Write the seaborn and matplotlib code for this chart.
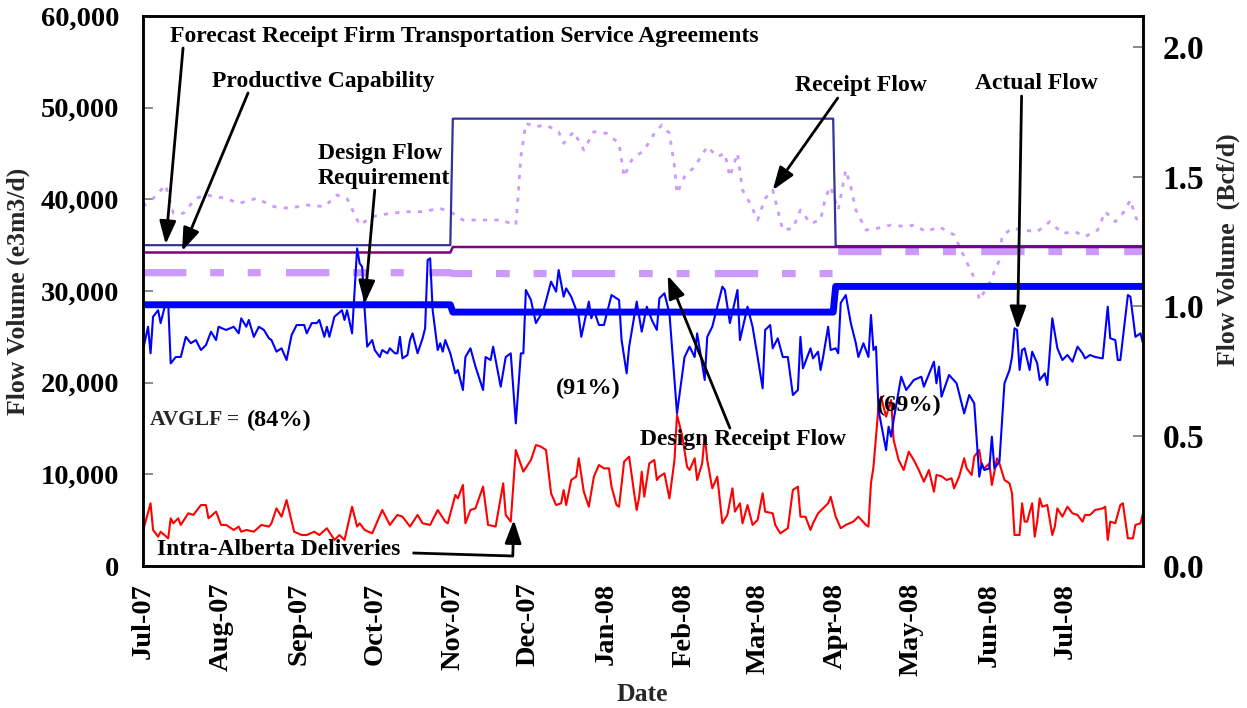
import pandas as pd
import matplotlib
matplotlib.use("Agg")
import matplotlib.pyplot as plt
from matplotlib.ticker import FuncFormatter, FixedLocator
import seaborn as sns

# ---------------------------------------------------------------- data
START = pd.Timestamp("2007-07-01")
END = pd.Timestamp("2008-08-01")

# Daily actual flow (e3m3/d), sampled by day offset from START
actual_days = [0, 2, 3, 4, 6, 7, 9, 10, 11, 13, 15, 17, 19, 21, 23, 25, 27, 29, 30, 33,
               36, 38, 39, 41, 42, 44, 46, 48, 50, 51, 53, 55, 57, 59, 61, 64, 65, 67, 69, 70,
               72, 73, 74, 76, 79, 80, 81, 83, 85, 86, 87, 88, 89, 91, 92, 94, 95, 97, 98, 100,
               101, 102, 103, 105, 106, 107, 109, 111, 112, 113, 114, 115, 117, 118, 119, 120, 122, 124, 125, 127,
               128, 130, 132, 135, 136, 138, 139, 142, 144, 146, 148, 150, 151, 152, 154, 156, 159, 162, 164, 165,
               167, 168, 170, 173, 174, 177, 178, 179, 181, 183, 186, 189, 190, 192, 193, 196, 198, 200, 202, 204,
               205, 207, 209, 212, 215, 217, 219, 220, 223, 224, 226, 230, 231, 233, 236, 237, 240, 242, 244, 246,
               247, 249, 250, 252, 254, 256, 258, 260, 261, 262, 265, 266, 268, 269, 270, 272, 273, 275, 276, 277,
               279, 281, 283, 284, 286, 288, 289, 290, 291, 292, 295, 296, 297, 298, 301, 303, 304, 306, 309, 310,
               314, 315, 316, 317, 320, 323, 326, 328, 330, 332, 333, 334, 336, 337, 338, 340, 342, 344, 345, 346,
               347, 348, 349, 350, 352, 353, 355, 356, 358, 359, 361, 363, 365, 367, 369, 371, 373, 374, 376, 378,
               381, 383, 384, 386, 387, 388, 391, 392, 394, 396, 397]
actual_flow = [23560, 26100, 23200, 27200, 27900, 26500, 28700, 28700, 22100, 22800, 22800, 25000, 24300, 24650, 23560, 24100, 25560, 24650, 26100, 25750,
               26100, 25380, 27020, 26100, 26840, 25000, 26100, 25750, 24840, 24650, 23380, 23750, 22470, 25200, 26290, 26290, 25380, 26500, 26500, 26840,
               25000, 26100, 25000, 27200, 27900, 26840, 27900, 25380, 34650, 33020, 32650, 27900, 23930, 24650, 23560, 22800, 23560, 23200, 23750, 23200,
               23200, 25000, 22650, 23020, 24650, 25380, 23200, 24840, 25930, 33380, 33560, 27900, 23560, 24300, 23380, 24650, 23200, 21020, 21380, 19200,
               22800, 23750, 21750, 19200, 22800, 22470, 23930, 19560, 22800, 23200, 15560, 23200, 23200, 30110, 29020, 26500, 27900, 31020, 29930, 32290,
               29380, 30290, 29380, 27200, 25000, 28840, 27020, 27900, 26290, 26290, 29560, 29020, 24650, 21020, 23930, 28840, 25560, 28290, 26840, 25750,
               29200, 29750, 27560, 16650, 22800, 23930, 22800, 25380, 20290, 25000, 26100, 30470, 30110, 26500, 30110, 24650, 28290, 26100, 22800, 19380,
               25750, 26290, 23750, 24840, 22800, 22800, 18650, 19200, 25000, 21560, 23750, 22650, 23380, 21380, 22800, 26100, 23560, 23750, 23200, 28700,
               29560, 26500, 24300, 22800, 24300, 22800, 27380, 23560, 23930, 17020, 12650, 15200, 14110, 15930, 20650, 19200, 19560, 20290, 20650, 19560,
               22290, 19930, 21750, 18470, 20840, 19930, 16650, 18650, 17750, 9750, 11200, 10470, 10650, 14110, 10650, 11380, 19930, 21380, 22800, 25930,
               25750, 21380, 23560, 23750, 21380, 23380, 22110, 20290, 21020, 19750, 27020, 23750, 22470, 23020, 22290, 23930, 23200, 22650, 23020, 22800,
               22650, 28290, 24840, 24650, 22470, 22470, 29560, 29380, 25000, 25380, 24300]

# Daily intra-Alberta deliveries (e3m3/d)
intra_days = [0, 1, 3, 4, 6, 7, 10, 11, 12, 14, 15, 18, 20, 23, 25, 26, 29, 31, 33, 36,
              38, 39, 41, 44, 47, 50, 51, 53, 55, 57, 60, 63, 65, 68, 70, 73, 76, 78, 80, 83,
              85, 86, 88, 91, 95, 98, 101, 103, 106, 109, 111, 114, 117, 120, 121, 124, 125, 127, 128, 130,
              132, 135, 137, 140, 143, 144, 146, 148, 151, 154, 156, 158, 160, 162, 164, 166, 167, 168, 170, 172,
              173, 175, 177, 179, 181, 183, 185, 186, 188, 189, 191, 193, 195, 196, 197, 198, 199, 201, 203, 204,
              205, 207, 209, 211, 212, 214, 216, 217, 219, 220, 222, 223, 224, 226, 228, 230, 232, 234, 235, 237,
              238, 240, 242, 244, 246, 247, 250, 251, 253, 256, 258, 260, 261, 263, 265, 266, 268, 270, 272, 273,
              275, 277, 279, 282, 284, 287, 288, 289, 290, 292, 293, 295, 297, 298, 300, 302, 304, 306, 308, 310,
              312, 314, 315, 317, 319, 321, 322, 324, 326, 327, 329, 330, 332, 333, 334, 336, 337, 339, 340, 342,
              344, 345, 346, 348, 349, 350, 351, 353, 354, 355, 356, 357, 359, 361, 362, 363, 365, 367, 369, 371,
              373, 374, 376, 378, 381, 382, 383, 384, 386, 388, 389, 391, 393, 394, 396, 397]
intra_alberta = [3740, 4840, 6840, 3930, 3200, 3740, 3020, 5200, 4660, 5200, 4480, 5750, 5570, 6650, 6650, 5200, 5930, 4480, 4480, 3930,
                 4300, 3740, 3930, 3740, 4480, 4300, 4660, 6290, 5380, 7200, 3740, 3380, 3380, 3740, 3380, 4120, 2840, 3380, 2840, 6470,
                 4300, 4660, 3930, 3560, 6110, 4480, 5570, 5380, 4300, 5570, 4660, 4480, 6110, 4840, 4660, 7750, 7380, 8840, 4660, 6110,
                 6290, 8660, 4480, 4300, 9020, 5570, 4840, 12650, 10290, 11560, 13200, 13020, 12650, 7930, 6650, 6840, 8290, 6650, 9380, 9750,
                 11750, 8100, 6470, 9750, 11020, 10650, 10650, 8660, 6650, 6470, 11380, 11930, 7930, 6110, 7560, 10290, 7560, 11200, 11560, 9380,
                 9750, 10110, 7380, 11560, 16470, 14290, 10830, 10470, 11750, 9380, 11200, 14290, 11560, 8470, 9750, 4660, 5570, 8470, 5930, 6840,
                 4660, 6650, 4480, 5020, 7930, 5930, 5750, 4480, 3560, 4120, 8290, 8660, 5380, 5380, 3930, 4660, 5750, 6290, 6840, 7560,
                 5380, 4120, 4480, 4840, 5380, 4480, 4300, 9020, 10830, 17380, 18470, 16290, 18110, 13750, 11560, 10470, 12470, 11560, 10470, 9200,
                 10470, 8100, 9930, 9800, 9380, 9570, 8470, 9750, 11750, 10650, 9930, 11930, 12650, 10830, 10650, 11200, 8840, 11750, 11200, 9380,
                 9020, 7930, 3380, 3380, 6840, 4840, 4840, 6840, 3200, 4840, 7380, 6470, 6650, 3380, 4300, 6290, 5380, 6470, 5750, 5570,
                 4840, 5570, 5570, 6110, 6290, 6470, 2840, 4840, 4660, 6650, 6840, 3020, 3020, 4480, 4660, 5750]

# Receipt flow (e3m3/d)
receipt_days = [0, 4, 9, 12, 16, 21, 25, 33, 38, 45, 52, 58, 65, 72, 77, 81, 86, 91, 98, 105,
                111, 118, 123, 127, 135, 142, 148, 149, 150, 152, 156, 160, 165, 167, 171, 175, 179, 184, 189, 191,
                194, 199, 203, 206, 209, 211, 212, 215, 219, 224, 228, 231, 233, 236, 238, 241, 244, 247, 250, 254,
                258, 261, 265, 269, 271, 273, 276, 279, 281, 283, 287, 292, 297, 303, 306, 311, 316, 322, 326, 331,
                332, 336, 340, 341, 345, 349, 355, 360, 365, 370, 374, 379, 382, 386, 389, 392, 394, 396]
receipt_flow = [39200, 40100, 41560, 38500, 38470, 40100, 40470, 40100, 39560, 40100, 39200, 39020, 39380, 39200, 40470, 40100, 37200, 38110, 38470, 38650,
                38650, 39020, 38470, 37750, 37750, 37750, 37200, 40650, 44650, 48290, 47930, 48110, 47380, 46110, 47380, 45380, 47380, 47200, 46110, 42470,
                44290, 45380, 47200, 48110, 47200, 43560, 40650, 42470, 43560, 45750, 44650, 45020, 42470, 45020, 41020, 39560, 37750, 40100, 41020, 36650,
                36830, 38840, 37380, 37750, 40290, 41380, 38840, 43200, 41380, 38840, 36650, 36870, 37200, 37020, 37200, 36470, 37020, 36110, 33750, 30840,
                29020, 30840, 33380, 35930, 36870, 36650, 36470, 37560, 36290, 36470, 35930, 36650, 38650, 37560, 38470, 39930, 38110, 37020]

# Contract / design levels (e3m3/d) at their change dates
level_dates = ["2007-07-01", "2007-10-31", "2007-11-01", "2008-03-31", "2008-04-01", "2008-08-01"]
forecast_ft = [35000, 35000, 48800, 48800, 34900, 34900]
productive_capability = [34200, 34200, 34800, 34800, 34800, 34800]
design_flow_requirement = [28500, 28500, 27700, 27700, 30500, 30500]
design_receipt_flow = [32000, 32000, 31900, 31900, 34300, 34300]

E3M3_PER_BCF = 28316.85
month_ticks = pd.date_range("2007-07-01", "2008-07-01", freq="MS")
left_ticks = [0, 10000, 20000, 30000, 40000, 50000, 60000]
right_ticks = [0.0, 0.5, 1.0, 1.5, 2.0]


def day(d):
    return START + pd.Timedelta(days=d)


def to_dates(days):
    return [day(d) for d in days]


# ---------------------------------------------------------------- style
sns.set_theme(style="white")
plt.rcParams["font.family"] = ["Liberation Serif", "DejaVu Serif"]
plt.rcParams["font.weight"] = "bold"
plt.rcParams["axes.labelweight"] = "bold"

fig = plt.figure(figsize=(12.47, 7.08), dpi=100)
ax = fig.add_axes([143 / 1247, 1 - 566 / 708, 1000 / 1247, 550 / 708])

LAV = "#CC99FF"
ldates = pd.to_datetime(level_dates)

sns.lineplot(x=ldates, y=design_receipt_flow, ax=ax, color=LAV, linewidth=5.2, estimator=None)
ax.lines[-1].set_linestyle((0, (6.0, 3.3, 1.9, 3.3, 1.8, 3.5)))
ax.lines[-1].set_dash_capstyle("butt")
sns.lineplot(x=to_dates(receipt_days), y=receipt_flow, ax=ax, color=LAV, linewidth=2.0,
             estimator=None)
ax.lines[-1].set_linestyle((0, (1.5, 2.6)))
sns.lineplot(x=ldates, y=forecast_ft, ax=ax, color="#333399", linewidth=1.6, estimator=None)
sns.lineplot(x=ldates, y=productive_capability, ax=ax, color="#800080", linewidth=1.8, estimator=None)
sns.lineplot(x=to_dates(intra_days), y=intra_alberta, ax=ax, color="#FF0000", linewidth=1.5,
             estimator=None)
sns.lineplot(x=to_dates(actual_days), y=actual_flow, ax=ax, color="#0000FF", linewidth=1.5,
             estimator=None)
sns.lineplot(x=ldates, y=design_flow_requirement, ax=ax, color="#0000FF", linewidth=5.0,
             estimator=None)

ax.set_xlim(START, END)
ax.set_ylim(0, 60000)
ax.yaxis.set_major_locator(FixedLocator(left_ticks))
ax.yaxis.set_major_formatter(FuncFormatter(lambda v, p: f"{int(v):,}"))
ax.set_xticks(month_ticks)
ax.set_xticklabels([d.strftime("%b-%y") for d in month_ticks], rotation=90,
                   fontsize=20.5, fontweight="bold")
ax.tick_params(axis="both", direction="in", length=7, width=1.3, color="#808080",
               labelcolor="black")
ax.tick_params(axis="y", pad=17, labelsize=20.5)
ax.tick_params(axis="x", pad=12)
for lab in ax.get_yticklabels():
    lab.set_fontweight("bold")
for s in ax.spines.values():
    s.set_visible(True)
    s.set_color("black")
    s.set_linewidth(1.8)

ax.set_xlabel("Date", fontsize=18.5, fontweight="bold")
ax.set_ylabel("Flow Volume (e3m3/d)", fontsize=18.5, fontweight="bold")
ax.xaxis.set_label_coords(0.499, -0.212)
ax.yaxis.set_label_coords(-0.113, 0.5)

ax2 = ax.twinx()
ax2.set_ylim(0, 60000 / E3M3_PER_BCF)
ax2.yaxis.set_major_locator(FixedLocator(right_ticks))
ax2.yaxis.set_major_formatter(FuncFormatter(lambda v, p: f"{v:.1f}"))
ax2.tick_params(axis="y", direction="in", length=7, width=1.3, color="#808080",
                labelsize=24, labelcolor="black", pad=14)
for lab in ax2.get_yticklabels():
    lab.set_fontweight("bold")
ax2.set_ylabel("Flow Volume  (Bcf/d)", fontsize=18.5, fontweight="bold", rotation=90)
ax2.yaxis.set_label_coords(1.074, 0.575)
ax2.grid(False)
ax.grid(False)
for s in ax2.spines.values():
    s.set_color("black")
    s.set_linewidth(1.8)

# ---------------------------------------------------------------- annotations
arrow = dict(arrowstyle="-|>,head_length=0.7,head_width=0.25", color="black", lw=2,
             mutation_scale=20, shrinkA=0, shrinkB=0)
tkw = dict(fontsize=17, fontweight="bold", color="black", va="center", ha="left")
pkw = dict(tkw, fontsize=17.5)

ax.text(day(10.7), 57710, "Forecast Receipt Firm Transportation Service Agreements", **tkw)
ax.annotate("", xy=(day(9), 35100), xytext=(day(15.9), 56500), arrowprops=arrow)

ax.text(day(27.4), 52900, "Productive Capability", **tkw)
ax.annotate("", xy=(day(15.5), 34350), xytext=(day(41.7), 51600), arrowprops=arrow)

ax.text(day(69.4), 43640, "Design Flow\nRequirement", linespacing=1.25, **tkw)
ax.annotate("", xy=(day(88), 28600), xytext=(day(92), 41000), arrowprops=arrow)

ax.text(day(258.7), 52470, "Receipt Flow", **tkw)
ax.annotate("", xy=(day(250), 41000), xytext=(day(275.8), 51050), arrowprops=arrow)

ax.text(day(330.2), 52690, "Actual Flow", **tkw)
ax.annotate("", xy=(day(347.2), 25800), xytext=(day(348.8), 51270), arrowprops=arrow)

ax.text(day(197.2), 13850, "Design Receipt Flow", **tkw)
ax.annotate("", xy=(day(208.3), 31700), xytext=(day(233), 15050), arrowprops=arrow)

ax.text(day(5.6), 1850, "Intra-Alberta Deliveries", **tkw)
ax.plot([day(107), day(146.8)], [1420, 1090], color="black", lw=2, solid_capstyle="butt")
ax.annotate("", xy=(day(147.2), 5020), xytext=(day(146.8), 1090), arrowprops=arrow)

ax.text(day(2.8), 15930, "AVGLF =", fontsize=15.5, fontweight="bold", va="center", ha="left")
ax.text(day(41.3), 15930, "(84%)", **pkw)
ax.text(day(163.9), 19420, "(91%)", **pkw)
ax.text(day(291.3), 17560, "(69%)", **pkw)

fig.savefig("out.png", dpi=100)
